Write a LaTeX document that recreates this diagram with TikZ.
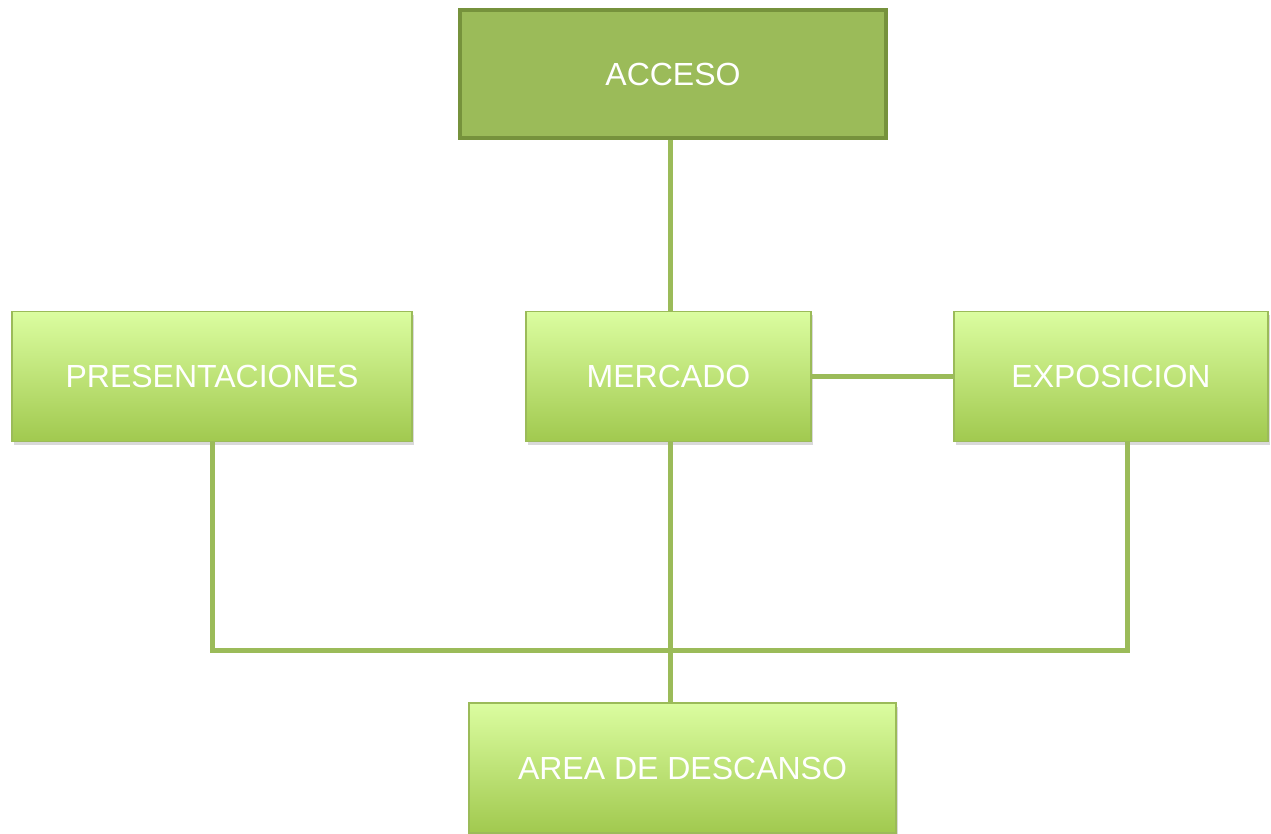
\documentclass[tikz,border=0pt]{standalone}
\usepackage{fontspec}
\setmainfont{Liberation Sans}
\usetikzlibrary{shadows,calc}
\definecolor{olivegreen}{HTML}{9BBB59}
\definecolor{darkolive}{HTML}{76923C}
\definecolor{palelime}{HTML}{DBFDA0}
\definecolor{deeplime}{HTML}{A1C94F}

\begin{document}
\begin{tikzpicture}[
  x=0.5pt, y=-0.5pt,
  font=\fontsize{16}{19}\selectfont,
  accessblock/.style={rectangle, draw=darkolive, line width=2pt, fill=olivegreen, text=white, minimum width=213pt, minimum height=64pt},
  areablock/.style={rectangle, draw=olivegreen, line width=0.8pt, top color=palelime, bottom color=deeplime, text=white, minimum height=65pt, drop shadow={shadow xshift=1.2pt, shadow yshift=-2pt, opacity=0.3}},
  link/.style={draw=olivegreen, line width=2.5pt},
]
\useasboundingbox (0,0) rectangle (1271,834);

\node[accessblock] (acceso) at (673,74) {ACCESO};
\node[areablock, minimum width=200pt] (presentaciones) at (212,376.5) {PRESENTACIONES};
\node[areablock, minimum width=142.5pt] (mercado) at (668.5,376.5) {MERCADO};
\node[areablock, minimum width=157pt] (exposicion) at (1111,376.5) {EXPOSICION};
\coordinate (bus) at (670,650);

% conectores
\draw[link] (acceso.south -| bus) -- (mercado.north -| bus);
\draw[link] (mercado.east) -- (exposicion.west);
\draw[link] (presentaciones.south) |- (bus) -| ([xshift=8pt]exposicion.south);
\draw[link] (mercado.south -| bus) -- ($(bus)+(0,52)$);

\node[areablock, minimum width=213.5pt] (descanso) at (682.5,768) {AREA DE DESCANSO};

\end{tikzpicture}
\end{document}
